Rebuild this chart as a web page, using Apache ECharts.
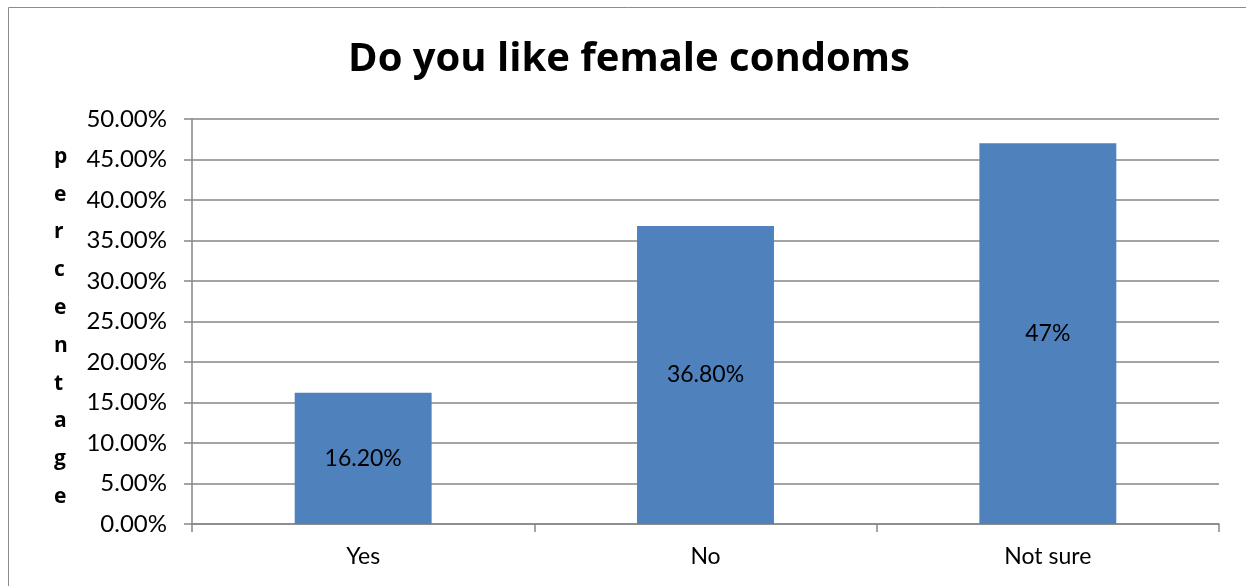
<!DOCTYPE html>
<html>
<head>
<meta charset="utf-8">
<script src="https://cdn.jsdelivr.net/npm/echarts@6/dist/echarts.min.js"></script>
<style>
html,body{margin:0;padding:0;background:#fff;}
#chart{width:1246px;height:586px;}
</style>
</head>
<body>
<div id="chart"></div>
<script>
const categories = ['Yes', 'No', 'Not sure'];
const values = [0.162, 0.368, 0.47];
const valueLabels = ['16.20%', '36.80%', '47%'];
const yTicks = [0, 0.05, 0.10, 0.15, 0.20, 0.25, 0.30, 0.35, 0.40, 0.45, 0.50];
const titleText = 'Do you like female condoms';
const yAxisTitle = 'percentage';

const FONT = 'Lato, "Open Sans", sans-serif';
const chart = echarts.init(document.getElementById('chart'));
chart.setOption({
  backgroundColor: '#ffffff',
  animation: false,
  title: {
    text: titleText,
    left: 624, top: 35,
    textAlign: 'center',
    textStyle: {fontFamily: '"Open Sans", Lato, sans-serif', fontWeight: 'bold', fontSize: 40, color: '#000'}
  },
  graphic: [{
    type: 'rect',
    shape: {x: 8.5, y: 7.5, width: 1260, height: 620},
    style: {fill: 'none', stroke: '#8c8c8c', lineWidth: 1},
    silent: true
  }, {
    type: 'text',
    left: 54, top: 138,
    style: {
      text: yAxisTitle.split('').join('\n'),
      fontFamily: '"Open Sans", Lato, sans-serif', fontWeight: 'bold', fontSize: 21,
      lineHeight: 37.8, fill: '#000', align: 'center'
    },
    silent: true
  }],
  grid: {left: 192, right: 27, top: 119, bottom: 62, containLabel: false},
  xAxis: {
    type: 'category',
    data: categories,
    axisLine: {lineStyle: {color: '#868686', width: 1.5}},
    axisTick: {show: true, length: 8, alignWithLabel: false, lineStyle: {color: '#868686', width: 1.5}},
    axisLabel: {fontFamily: FONT, fontSize: 23, color: '#000', margin: 21}
  },
  yAxis: {
    type: 'value',
    min: 0, max: 0.5, interval: 0.05,
    axisLine: {show: true, lineStyle: {color: '#868686', width: 1.5}},
    axisTick: {show: true, length: 8, lineStyle: {color: '#868686', width: 1.5}},
    splitLine: {lineStyle: {color: '#868686', width: 1.5}},
    axisLabel: {
      fontFamily: FONT, fontSize: 24, color: '#000', margin: 25,
      formatter: v => (v * 100).toFixed(2) + '%'
    }
  },
  series: [{
    type: 'bar',
    data: values,
    barWidth: '40%',
    itemStyle: {color: '#4F81BD'},
    label: {
      show: true, position: 'inside',
      fontFamily: FONT, fontSize: 23, color: '#000',
      formatter: p => valueLabels[p.dataIndex]
    }
  }]
});
</script>
</body>
</html>
